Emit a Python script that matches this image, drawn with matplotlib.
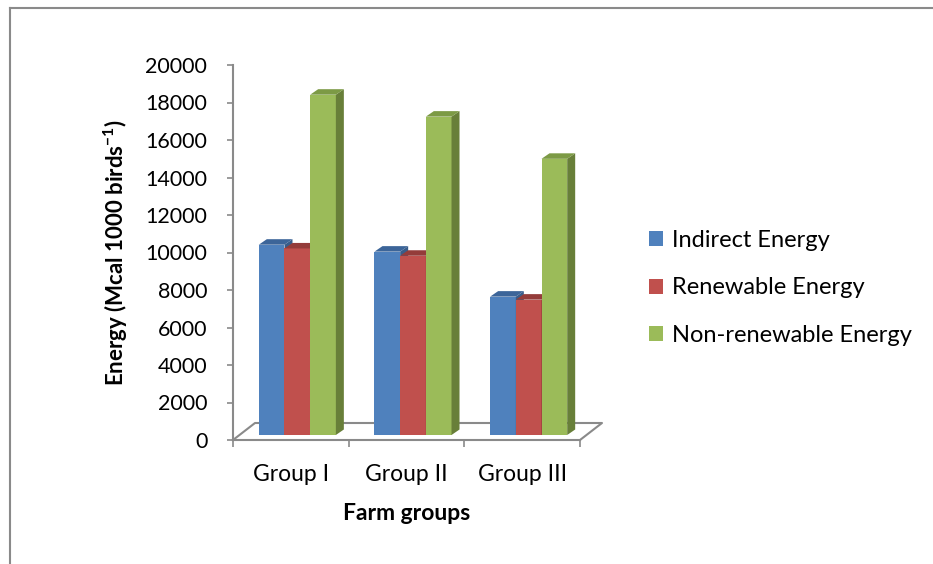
import numpy as np
import matplotlib
matplotlib.use('Agg')
import matplotlib.pyplot as plt
from matplotlib.patches import Polygon, Patch
from matplotlib.lines import Line2D

plt.rcParams['font.family'] = ['Lato', 'DejaVu Sans']
plt.rcParams['mathtext.fontset'] = 'custom'
plt.rcParams['mathtext.rm'] = 'Lato:bold'
plt.rcParams['mathtext.default'] = 'regular'

# == data
groups = ['Group I', 'Group II', 'Group III']
series = ['Indirect Energy', 'Renewable Energy', 'Non-renewable Energy']
indirect = [10150, 9780, 7380]
renewable = [9950, 9560, 7220]
nonrenewable = [18150, 16980, 14730]
values = [indirect, renewable, nonrenewable]

front = ['#4F81BD', '#C0504D', '#9BBB59']
top = ['#3C6599', '#943C3A', '#7C9A45']
side = ['#385D8A', '#8C3836', '#687F39']
grey = '#8a8a8a'

W, H = 933, 564
fig = plt.figure(figsize=(W/100, H/100), dpi=100)

# axes box in pixels: x 233..580, y 65..440
ax = fig.add_axes([233/W, 1-440/H, 347/W, 375/H])
ax.set_xlim(0, 3)
ax.set_ylim(0, 20000)

pxx = 3/347.0       # data units per pixel, x
pxy = 20000/375.0   # data units per pixel, y

# 3d look: bar front shifted back into the floor, bar depth
sx, sy = 6.5*pxx, 5*pxy
dx, dy = 8*pxx, 5.5*pxy
fx, fy = 22*pxx, 17*pxy   # floor depth
w = 0.222

for i in range(len(groups)):
    for k in range(len(series)):
        v = values[k][i]
        xc = i + 0.5 + (k-1)*w + sx
        xl, xr = xc - w/2, xc + w/2
        z = 3 + i*3 + k
        ax.bar(xc, v, width=w, bottom=sy, color=front[k], linewidth=0, zorder=z)
        ax.add_patch(Polygon([(xr, sy), (xr+dx, sy+dy), (xr+dx, sy+v+dy), (xr, sy+v)],
                             closed=True, facecolor=side[k], linewidth=0, zorder=z))
        ax.add_patch(Polygon([(xl, sy+v), (xl+dx, sy+v+dy), (xr+dx, sy+v+dy), (xr, sy+v)],
                             closed=True, facecolor=top[k], linewidth=0, zorder=z))

# floor outline
ax.plot([0, fx, 3+fx, 3], [0, fy, fy, 0], color=grey, lw=1.5, clip_on=False, zorder=1)

for s in ['top', 'right']:
    ax.spines[s].set_visible(False)
for s in ['left', 'bottom']:
    ax.spines[s].set_color(grey)
    ax.spines[s].set_linewidth(1.5)

ax.set_yticks(np.arange(0, 20001, 2000))
ax.set_xticks([0, 1, 2, 3])
ax.set_xticklabels([])
ax.set_xticks([0.5, 1.5, 2.5], minor=True)
ax.set_xticklabels(groups, minor=True, fontsize=16.5)
ax.tick_params(axis='y', labelsize=15.5, length=4.5, width=1.2, color=grey, pad=14)
ax.tick_params(axis='x', which='major', length=5, width=1.2, color=grey)
ax.tick_params(axis='x', which='minor', length=0, pad=17)

ax.set_xlabel('Farm groups', fontsize=16.5, fontweight='bold', labelpad=13)
ax.set_ylabel('Energy (Mcal 1000 birds$^{-1}$)', fontsize=16, fontweight='bold', labelpad=11)

handles = [Patch(facecolor=front[k], edgecolor='none') for k in range(3)]
fig.legend(handles, series, loc='center left', bbox_to_anchor=(628/W, 1-288/H),
           frameon=False, fontsize=17, handlelength=0.6, handleheight=0.6,
           handletextpad=0.35, labelspacing=1.12)

# outer frame (open on right and bottom)
fig.add_artist(Line2D([9.5/W, 1], [1-7.5/H, 1-7.5/H], color=grey, lw=1.5))
fig.add_artist(Line2D([9.5/W, 9.5/W], [0, 1-7.5/H], color=grey, lw=1.5))

fig.savefig('out.png', dpi=100)
